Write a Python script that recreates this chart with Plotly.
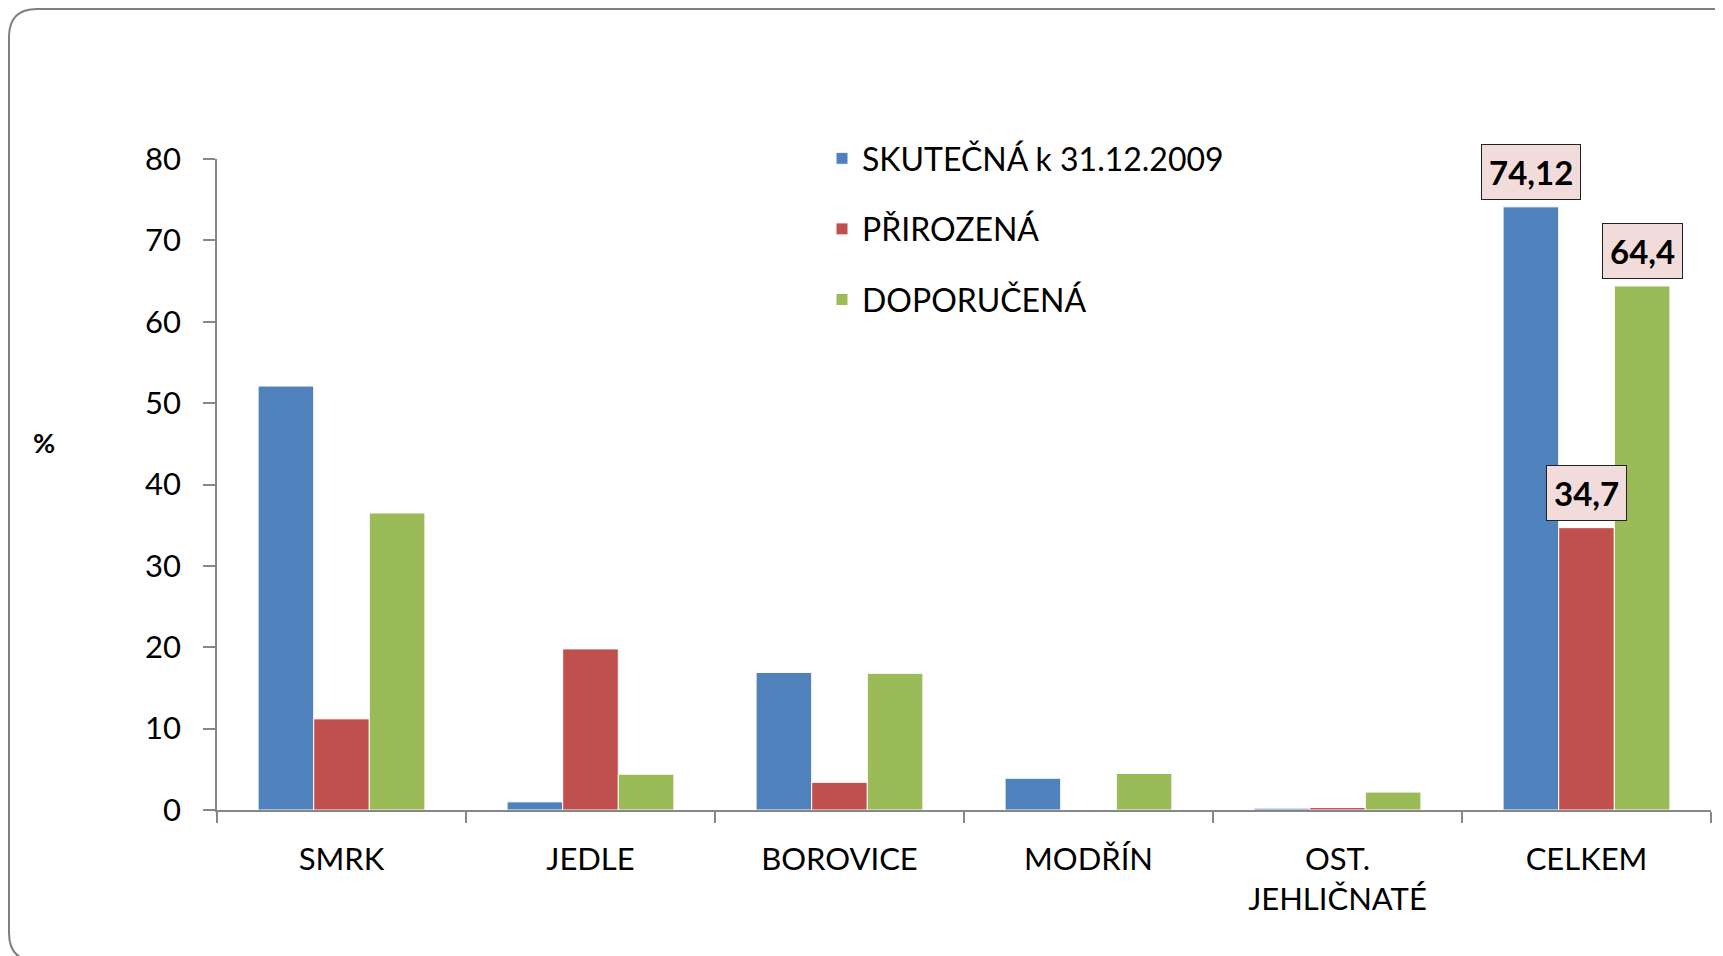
import plotly.graph_objects as go

categories = ["SMRK", "JEDLE", "BOROVICE", "MODŘÍN", "OST.<br>JEHLIČNATÉ", "CELKEM"]
series_names = ["SKUTEČNÁ k 31.12.2009", "PŘIROZENÁ", "DOPORUČENÁ"]
skutecna = [52.1, 1.0, 16.9, 3.9, 0.22, 74.12]
prirozena = [11.2, 19.8, 3.4, 0.0, 0.3, 34.7]
doporucena = [36.5, 4.4, 16.8, 4.5, 2.2, 64.4]
colors = ["#4F81BD", "#C0504D", "#9BBB59"]
y_ticks = [0, 10, 20, 30, 40, 50, 60, 70, 80]

OFF = 8  # page body margin
W, H = 1723 - OFF, 956 - OFF
ML, MR, MT, MB = 209, 12, 151, 146
PW, PH = W - ML - MR, H - MT - MB
FONT = "Lato"
BARGAP = 0.33

def px(x):  # page x -> paper
    return (x - OFF - ML) / PW

def py(y):  # page y -> paper
    return (H - MB - (y - OFF)) / PH

fig = go.Figure()
for i, (name, vals) in enumerate(zip(series_names, [skutecna, prirozena, doporucena])):
    fig.add_trace(go.Bar(
        x=categories, y=vals, name=name,
        marker=dict(color=colors[i], line=dict(color="white", width=1)),
        legendgroup=f"g{i}", cliponaxis=False,
    ))

# data labels for the last category (CELKEM)
last = len(categories) - 1
bw = (1 - BARGAP) / 3
for i, vals in enumerate([skutecna, prirozena, doporucena]):
    v = vals[last]
    txt = f"{v:g}".replace(".", ",")
    fig.add_annotation(
        x=last + (i - 1) * bw, y=v, xref="x", yref="y",
        text=f"<b>{txt}</b>", showarrow=False, yanchor="bottom", yshift=7,
        font=dict(family=FONT, size=33, color="black"),
        bgcolor="#F2DCDB", bordercolor="#222222", borderwidth=1, borderpad=7,
    )

# y axis title
fig.add_annotation(x=px(44), y=py(442), xref="paper", yref="paper", text="<b>%</b>",
                   xanchor="center", yanchor="middle",
                   showarrow=False, font=dict(family=FONT, size=27, color="black"))

# rounded outer frame (page coordinates)
L, T, R, B, r = 9, 9, 1741, 961, 28
path = (f"M {px(L)},{py(T + r)} Q {px(L)},{py(T)} {px(L + r)},{py(T)} "
        f"L {px(R - r)},{py(T)} Q {px(R)},{py(T)} {px(R)},{py(T + r)} "
        f"L {px(R)},{py(B - r)} Q {px(R)},{py(B)} {px(R - r)},{py(B)} "
        f"L {px(L + r)},{py(B)} Q {px(L)},{py(B)} {px(L)},{py(B - r)} Z")
fig.add_shape(type="path", path=path, xref="paper", yref="paper",
              line=dict(color="#7F7F7F", width=2), layer="below")

fig.update_layout(
    width=W, height=H,
    margin=dict(l=ML, r=MR, t=MT, b=MB, pad=0),
    paper_bgcolor="white", plot_bgcolor="white",
    barmode="group", bargap=BARGAP, bargroupgap=0,
    font=dict(family=FONT, size=31, color="black"),
    showlegend=True,
    legend=dict(x=px(822), y=py(131), xanchor="left", yanchor="top",
                font=dict(family=FONT, size=32, color="black"),
                tracegroupgap=26, bgcolor="rgba(0,0,0,0)", traceorder="grouped"),
    xaxis=dict(
        type="category", range=[-0.5, len(categories) - 0.5],
        showgrid=False, zeroline=False,
        showline=True, linecolor="#878787", linewidth=1.5,
        ticks="outside", tickson="boundaries", ticklen=11, tickcolor="#878787", tickwidth=1.5,
        ticklabelstandoff=21,
        tickfont=dict(family=FONT, size=31, color="black"),
    ),
    yaxis=dict(
        range=[0, 80], tickvals=y_ticks, showgrid=False, zeroline=False,
        showline=True, linecolor="#878787", linewidth=1.5,
        ticks="outside", ticklen=12, tickcolor="#878787", tickwidth=1.5,
        ticklabelstandoff=16,
        tickfont=dict(family=FONT, size=31, color="black"),
    ),
)

fig.write_html("out.html")
